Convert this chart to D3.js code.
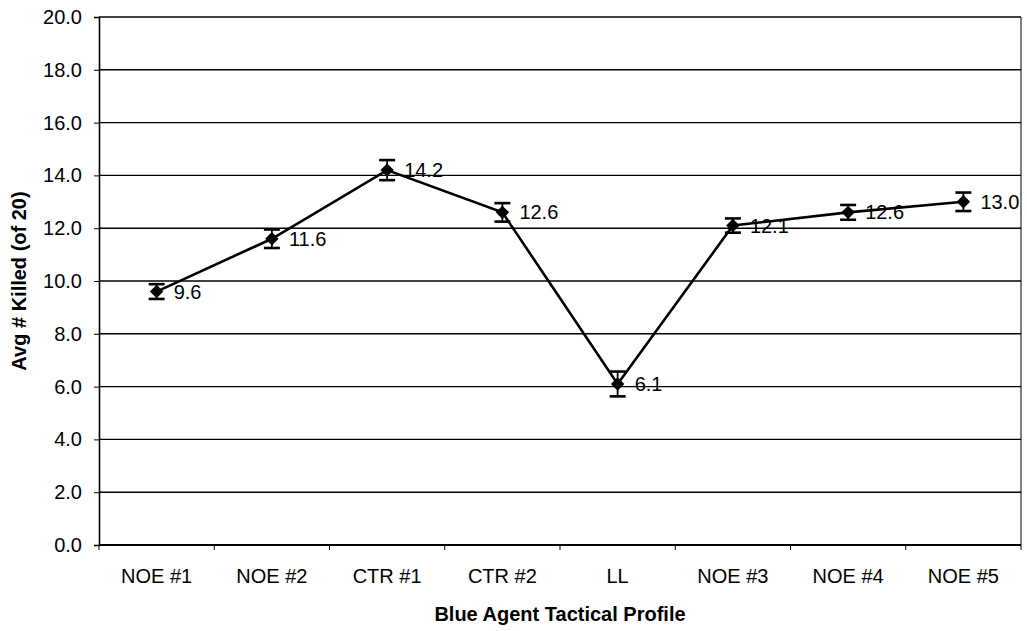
<!DOCTYPE html>
<html><head><meta charset="utf-8">
<script src="https://cdn.jsdelivr.net/npm/d3@7"></script>
<style>body{margin:0;background:#fff;} text{font-family:"Liberation Sans",Arial,sans-serif;}</style>
</head><body><svg id="c" width="1027" height="631"></svg>
<script>
const categories = ["NOE #1","NOE #2","CTR #1","CTR #2","LL","NOE #3","NOE #4","NOE #5"];
const values = [9.6, 11.6, 14.2, 12.6, 6.1, 12.1, 12.6, 13.0];
const errors = [0.28, 0.35, 0.38, 0.35, 0.47, 0.27, 0.28, 0.35];
const labels = ["9.6","11.6","14.2","12.6","6.1","12.1","12.6","13.0"];
const yTicks = [0,2,4,6,8,10,12,14,16,18,20];

const svg = d3.select("#c");
const L=99, R=1021, T=17, B=545;
const x = d3.scaleBand().domain(categories).range([L,R]);
const y = d3.scaleLinear().domain([0,20]).range([B,T]);

// gridlines
svg.append("g").selectAll("line").data(yTicks).join("line")
  .attr("x1",L).attr("x2",R).attr("y1",d=>y(d)).attr("y2",d=>y(d))
  .attr("stroke","#000").attr("stroke-width",1.4);
// right border
svg.append("line").attr("x1",R).attr("x2",R).attr("y1",T).attr("y2",B).attr("stroke","#000").attr("stroke-width",1);

// y axis
const ya = svg.append("g").attr("transform",`translate(${L},0)`)
  .call(d3.axisLeft(y).tickValues(yTicks).tickFormat(d3.format(".1f")).tickSizeOuter(0).tickSize(5).tickPadding(12));
ya.select(".domain").attr("stroke-width",1.6);
ya.selectAll("text").attr("font-size",20).attr("fill","#000").style("font-family","Liberation Sans, Arial");

// x axis with ticks at band boundaries
const xa = svg.append("g").attr("transform",`translate(0,${B})`);
xa.append("line").attr("x1",L).attr("x2",R).attr("y1",0).attr("y2",0).attr("stroke","#000").attr("stroke-width",1.8);
const bounds = categories.map(c=>x(c)).concat([R]);
xa.selectAll("line.t").data(bounds).join("line").attr("class","t")
  .attr("x1",d=>d).attr("x2",d=>d).attr("y1",0).attr("y2",5).attr("stroke","#000");
xa.selectAll("text").data(categories).join("text")
  .attr("x",d=>x(d)+x.bandwidth()/2).attr("y",38).attr("text-anchor","middle")
  .attr("font-size",20).text(d=>d);

// titles
svg.append("text").attr("x",(L+R)/2).attr("y",621).attr("text-anchor","middle")
  .attr("font-size",20).attr("font-weight","bold").text("Blue Agent Tactical Profile");
svg.append("text").attr("transform",`translate(26,${(T+B)/2}) rotate(-90)`).attr("text-anchor","middle")
  .attr("font-size",20).attr("font-weight","bold").text("Avg # Killed (of 20)");

const cx = d=>x(d)+x.bandwidth()/2;
const pts = categories.map((c,i)=>({c,v:values[i],e:errors[i],l:labels[i]}));

// line
svg.append("path").datum(pts)
  .attr("d",d3.line().x(d=>cx(d.c)).y(d=>y(d.v)))
  .attr("fill","none").attr("stroke","#000").attr("stroke-width",2.6);

// error bars
const eb = svg.append("g").selectAll("g").data(pts).join("g");
eb.append("line").attr("x1",d=>cx(d.c)).attr("x2",d=>cx(d.c))
  .attr("y1",d=>y(d.v+d.e)).attr("y2",d=>y(d.v-d.e)).attr("stroke","#000").attr("stroke-width",1.8);
eb.append("line").attr("x1",d=>cx(d.c)-8).attr("x2",d=>cx(d.c)+8)
  .attr("y1",d=>y(d.v+d.e)).attr("y2",d=>y(d.v+d.e)).attr("stroke","#000").attr("stroke-width",2.6);
eb.append("line").attr("x1",d=>cx(d.c)-8).attr("x2",d=>cx(d.c)+8)
  .attr("y1",d=>y(d.v-d.e)).attr("y2",d=>y(d.v-d.e)).attr("stroke","#000").attr("stroke-width",2.6);

// markers
svg.append("g").selectAll("path").data(pts).join("path")
  .attr("transform",d=>`translate(${cx(d.c)},${y(d.v)})`)
  .attr("d",d3.symbol(d3.symbolDiamond2,115)).attr("fill","#000");

// labels
svg.append("g").selectAll("text").data(pts).join("text")
  .attr("x",d=>cx(d.c)+17).attr("y",d=>y(d.v)+7)
  .attr("font-size",20).text(d=>d.l);
</script></body></html>
